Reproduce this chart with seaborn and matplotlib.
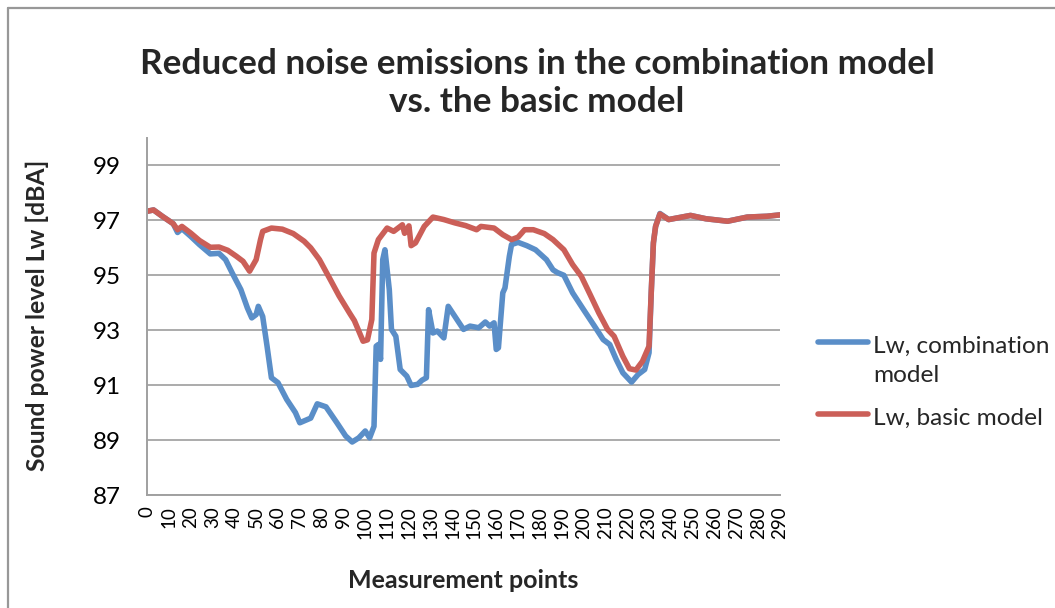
import matplotlib
matplotlib.use("Agg")
import matplotlib.pyplot as plt
import pandas as pd
import seaborn as sns
from matplotlib.lines import Line2D

# Sound power level Lw [dBA] along the measurement points
combo_points = [0, 3, 7, 12, 14, 16, 20, 24, 29, 33, 36, 39, 43, 46, 48, 50, 51, 53, 55, 57,
                60, 64, 68, 70, 75, 78, 82, 87, 91, 94, 97, 100, 102, 104, 105, 106, 107, 108, 109, 111,
                112, 114, 116, 119, 121, 124, 126, 128, 129, 131, 133, 136, 138, 140, 145, 148, 152, 155, 157, 159,
                160, 161, 163, 164, 166, 167, 170, 174, 178, 183, 186, 188, 191, 195, 200, 205, 209, 212, 215, 218,
                222, 225, 228, 230, 231, 232, 233, 235, 239, 243, 249, 256, 266, 275, 284, 290]
combo_levels = [97.33, 97.38, 97.15, 96.88, 96.56, 96.70, 96.42, 96.12, 95.78, 95.80, 95.57, 95.09, 94.48, 93.81, 93.45, 93.57, 93.87, 93.50, 92.42, 91.27,
                91.09, 90.48, 90.00, 89.63, 89.80, 90.32, 90.21, 89.63, 89.15, 88.93, 89.08, 89.33, 89.08, 89.50, 92.42, 92.48, 91.94, 95.57, 95.93, 94.48,
                93.03, 92.78, 91.57, 91.33, 90.99, 91.03, 91.18, 91.27, 93.75, 92.90, 92.97, 92.72, 93.87, 93.63, 93.03, 93.15, 93.09, 93.30, 93.15, 93.27,
                92.30, 92.36, 94.36, 94.54, 95.69, 96.12, 96.20, 96.08, 95.93, 95.57, 95.20, 95.10, 95.00, 94.36, 93.75, 93.15, 92.66, 92.48, 91.93, 91.45,
                91.11, 91.39, 91.57, 92.18, 94.36, 96.18, 96.78, 97.25, 97.03, 97.09, 97.18, 97.06, 96.97, 97.12, 97.15, 97.20]

basic_points = [0, 3, 7, 12, 14, 16, 20, 24, 29, 33, 37, 41, 44, 47, 50, 52, 53, 57, 62, 67,
                72, 75, 79, 84, 88, 93, 95, 99, 101, 103, 104, 106, 110, 113, 117, 118, 120, 121, 123, 127,
                131, 136, 141, 146, 151, 153, 159, 163, 167, 170, 173, 177, 182, 186, 191, 195, 199, 203, 207, 211,
                214, 218, 221, 224, 227, 230, 231, 232, 233, 235, 239, 243, 249, 256, 266, 275, 284, 290]
basic_levels = [97.33, 97.38, 97.15, 96.88, 96.66, 96.78, 96.54, 96.27, 96.02, 96.03, 95.91, 95.69, 95.51, 95.15, 95.57, 96.30, 96.60, 96.72, 96.68, 96.52,
                96.24, 96.00, 95.57, 94.84, 94.25, 93.60, 93.35, 92.60, 92.65, 93.39, 95.81, 96.30, 96.72, 96.60, 96.84, 96.53, 96.80, 96.08, 96.18, 96.78,
                97.12, 97.03, 96.91, 96.81, 96.66, 96.78, 96.72, 96.48, 96.30, 96.39, 96.66, 96.66, 96.52, 96.30, 95.93, 95.39, 94.96, 94.30, 93.63, 93.03,
                92.78, 92.05, 91.60, 91.55, 91.87, 92.42, 94.36, 96.18, 96.78, 97.23, 97.03, 97.09, 97.18, 97.06, 96.97, 97.12, 97.15, 97.20]

series_names = ["Lw, combination\nmodel", "Lw, basic model"]
series_colors = ["#5A8EC8", "#CB5F58"]
x_ticks = list(range(0, 291, 10))
y_ticks = [87, 89, 91, 93, 95, 97, 99]

title_text = "Reduced noise emissions in the combination model\nvs. the basic model"
x_label = "Measurement points"
y_label = "Sound power level Lw [dBA]"

sns.set_theme(style="white")
plt.rcParams["font.family"] = ["Lato", "DejaVu Sans"]

df = pd.concat([
    pd.DataFrame({"point": combo_points, "Lw": combo_levels, "series": series_names[0]}),
    pd.DataFrame({"point": basic_points, "Lw": basic_levels, "series": series_names[1]}),
], ignore_index=True)

W, H = 1055, 608
fig = plt.figure(figsize=(W / 100, H / 100), dpi=100)
fig.patch.set_facecolor("white")

# plot area in pixel terms
left, right, top, bottom = 147, 780, 138, 495
ax = fig.add_axes([left / W, 1 - bottom / H, (right - left) / W, (bottom - top) / H])

sns.lineplot(data=df, x="point", y="Lw", hue="series", hue_order=series_names,
             palette=series_colors, estimator=None, sort=False, linewidth=4.0,
             solid_capstyle="round", solid_joinstyle="round", legend=False, ax=ax)

ax.set_xlim(0, 290)
ax.set_ylim(87, 100)
ax.set_xticks(x_ticks)
ax.set_xticklabels([str(t) for t in x_ticks], rotation=90, fontsize=13.5)
ax.set_yticks(y_ticks)
ax.set_yticklabels([str(t) for t in y_ticks], fontsize=17.5)
ax.tick_params(axis="x", length=0, pad=8, colors="black")
ax.tick_params(axis="y", length=0, pad=19, colors="black")
ax.set_xlabel("")
ax.set_ylabel("")
ax.grid(axis="y", color="#A5A5A5", linewidth=1.3)
ax.set_axisbelow(True)
for side in ("top", "right"):
    ax.spines[side].set_visible(False)
for side in ("left", "bottom"):
    ax.spines[side].set_color("#A0A0A0")
    ax.spines[side].set_linewidth(1.4)

# titles
fig.text(537 / W, 1 - 83 / H, title_text, ha="center", va="center",
         fontsize=25.3, fontweight="bold", linespacing=1.25)
fig.text(463 / W, 1 - 580 / H, x_label, ha="center", va="center",
         fontsize=18, fontweight="bold")
fig.text(37 / W, 1 - 315 / H, y_label, ha="center", va="center",
         rotation=90, fontsize=17.8, fontweight="bold")

# legend
legend_rows = [(342, series_names[0], series_colors[0]), (414, series_names[1], series_colors[1])]
for y, name, color in legend_rows:
    fig.add_artist(Line2D([818 / W, 868 / W], [1 - y / H, 1 - y / H], transform=fig.transFigure,
                          color=color, linewidth=4.0, solid_capstyle="round"))
    fig.text(873 / W, 1 - (y - 6) / H, name, ha="left", va="top", fontsize=17.6,
             linespacing=1.45)

# outer chart frame
frame_kw = dict(transform=fig.transFigure, color="#989898", linewidth=1.6)
fig.add_artist(Line2D([8 / W, 8 / W], [0, 1 - 8 / H], **frame_kw))
fig.add_artist(Line2D([8 / W, 1], [1 - 8 / H, 1 - 8 / H], **frame_kw))

fig.savefig("out.png", dpi=100, facecolor="white")
